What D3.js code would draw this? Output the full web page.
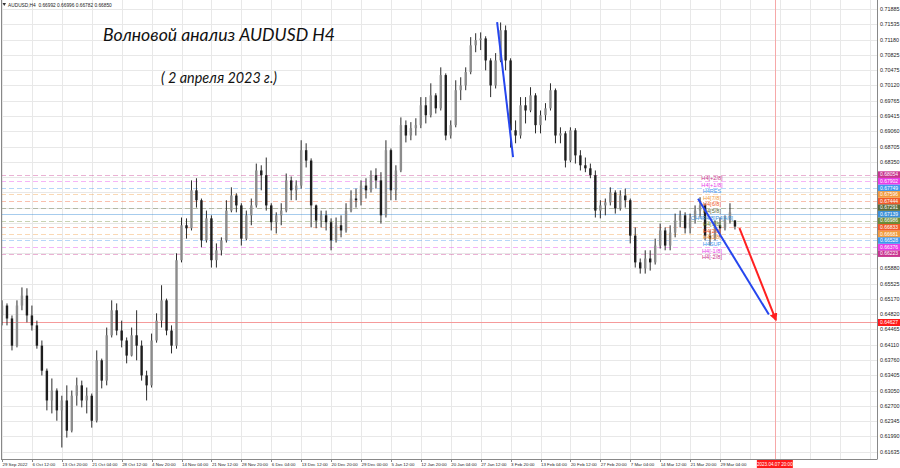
<!DOCTYPE html>
<html><head><meta charset="utf-8">
<script src="https://cdn.jsdelivr.net/npm/d3@7"></script>
<style>html,body{margin:0;padding:0;background:#fff;}svg{display:block;}</style>
</head><body><svg id="c" width="900" height="468"></svg>
<script>
// ---------- DATA ----------
const symbolInfo = "AUDUSD,H4  0.66992 0.66996 0.66782 0.66850";
const titleLine1 = "Волновой анализ AUDUSD H4";
const titleLine2 = "( 2 апреля 2023 г.)";
// candles: [open, high, low, close]
const candles = [
[0.6479,0.6514,0.6456,0.6502],[0.6502,0.6507,0.6456,0.6472],[0.6472,0.6479,0.6398,0.6409],[0.6409,0.6514,0.6405,0.6502],
[0.6502,0.6544,0.6491,0.6525],[0.6525,0.6542,0.6463,0.6479],[0.6479,0.6502,0.6444,0.6456],[0.6456,0.6467,0.6402,0.6409],
[0.6409,0.6421,0.6340,0.6351],[0.6351,0.6356,0.6259,0.6282],[0.6282,0.6333,0.6252,0.6305],[0.6305,0.6310,0.6235,0.6259],
[0.6259,0.6293,0.6173,0.6282],[0.6282,0.6317,0.6196,0.6212],[0.6212,0.6305,0.6208,0.6293],[0.6293,0.6335,0.6270,0.6317],
[0.6317,0.6328,0.6266,0.6282],[0.6282,0.6312,0.6252,0.6293],[0.6293,0.6298,0.6219,0.6235],[0.6235,0.6398,0.6231,0.6375],
[0.6375,0.6379,0.6310,0.6328],[0.6328,0.6451,0.6317,0.6433],[0.6433,0.6514,0.6428,0.6491],[0.6491,0.6507,0.6433,0.6444],
[0.6444,0.6467,0.6405,0.6421],[0.6421,0.6428,0.6368,0.6386],[0.6386,0.6451,0.6384,0.6433],[0.6433,0.6491,0.6375,0.6409],
[0.6409,0.6421,0.6328,0.6340],[0.6340,0.6351,0.6282,0.6317],[0.6317,0.6437,0.6312,0.6421],[0.6421,0.6484,0.6416,0.6467],
[0.6467,0.6549,0.6451,0.6514],[0.6514,0.6518,0.6433,0.6444],[0.6444,0.6456,0.6391,0.6409],[0.6409,0.6623,0.6402,0.6607],
[0.6607,0.6706,0.6602,0.6688],[0.6688,0.6704,0.6657,0.6681],[0.6681,0.6792,0.6676,0.6769],[0.6769,0.6797,0.6729,0.6746],
[0.6746,0.6750,0.6637,0.6653],[0.6653,0.6722,0.6648,0.6704],[0.6704,0.6711,0.6590,0.6607],[0.6607,0.6646,0.6590,0.6630],
[0.6630,0.6660,0.6618,0.6653],[0.6653,0.6746,0.6648,0.6722],[0.6722,0.6776,0.6718,0.6757],[0.6757,0.6762,0.6718,0.6734],
[0.6734,0.6739,0.6641,0.6657],[0.6657,0.6722,0.6653,0.6711],[0.6711,0.6750,0.6688,0.6734],[0.6734,0.6831,0.6729,0.6815],
[0.6815,0.6827,0.6769,0.6804],[0.6804,0.6845,0.6722,0.6734],[0.6734,0.6739,0.6676,0.6695],[0.6695,0.6718,0.6669,0.6711],
[0.6711,0.6739,0.6688,0.6722],[0.6722,0.6808,0.6718,0.6792],[0.6792,0.6801,0.6746,0.6769],[0.6769,0.6792,0.6746,0.6780],
[0.6780,0.6885,0.6773,0.6862],[0.6862,0.6878,0.6822,0.6838],[0.6838,0.6843,0.6683,0.6734],[0.6734,0.6736,0.6681,0.6699],
[0.6699,0.6722,0.6683,0.6711],[0.6711,0.6722,0.6676,0.6695],[0.6695,0.6704,0.6630,0.6653],[0.6653,0.6706,0.6648,0.6688],
[0.6688,0.6711,0.6660,0.6676],[0.6676,0.6739,0.6671,0.6722],[0.6722,0.6769,0.6718,0.6750],[0.6750,0.6773,0.6729,0.6746],
[0.6746,0.6792,0.6734,0.6780],[0.6780,0.6797,0.6750,0.6769],[0.6769,0.6815,0.6764,0.6804],[0.6804,0.6820,0.6773,0.6792],
[0.6792,0.6811,0.6692,0.6711],[0.6711,0.6885,0.6706,0.6862],[0.6862,0.6866,0.6746,0.6769],[0.6769,0.6827,0.6746,0.6815],
[0.6815,0.6938,0.6811,0.6920],[0.6920,0.6931,0.6880,0.6896],[0.6896,0.6927,0.6885,0.6913],[0.6913,0.6936,0.6896,0.6920],
[0.6920,0.6985,0.6913,0.6966],[0.6966,0.6985,0.6924,0.6943],[0.6943,0.7017,0.6938,0.6989],[0.6989,0.6994,0.6947,0.6959],
[0.6959,0.7054,0.6954,0.7036],[0.7036,0.7040,0.6885,0.6896],[0.6896,0.6931,0.6889,0.6920],[0.6920,0.7024,0.6915,0.7001],
[0.7001,0.7031,0.6978,0.7012],[0.7012,0.7054,0.7001,0.7043],[0.7043,0.7124,0.7038,0.7105],[0.7105,0.7133,0.7089,0.7117],
[0.7117,0.7135,0.7094,0.7121],[0.7121,0.7126,0.7047,0.7070],[0.7070,0.7075,0.6985,0.7012],[0.7012,0.7087,0.7005,0.7070],
[0.7070,0.7158,0.7066,0.7140],[0.7140,0.7151,0.7047,0.7070],[0.7070,0.7075,0.6868,0.6908],[0.6908,0.6931,0.6878,0.6896],
[0.6896,0.6985,0.6889,0.6966],[0.6966,0.6985,0.6924,0.6954],[0.6954,0.7008,0.6950,0.6989],[0.6989,0.6994,0.6901,0.6920],
[0.6920,0.6954,0.6901,0.6943],[0.6943,0.6971,0.6931,0.6959],[0.6959,0.7017,0.6954,0.7001],[0.7001,0.7005,0.6878,0.6896],
[0.6896,0.6915,0.6878,0.6901],[0.6901,0.6906,0.6822,0.6838],[0.6838,0.6915,0.6834,0.6908],[0.6908,0.6913,0.6831,0.6850],
[0.6850,0.6862,0.6815,0.6827],[0.6827,0.6845,0.6811,0.6820],[0.6820,0.6831,0.6797,0.6804],[0.6804,0.6815,0.6706,0.6722],
[0.6722,0.6746,0.6704,0.6734],[0.6734,0.6750,0.6711,0.6741],[0.6741,0.6776,0.6734,0.6764],[0.6764,0.6769,0.6715,0.6727],
[0.6727,0.6769,0.6722,0.6757],[0.6757,0.6773,0.6729,0.6746],[0.6746,0.6750,0.6646,0.6664],[0.6664,0.6683,0.6590,0.6602],
[0.6602,0.6611,0.6576,0.6588],[0.6588,0.6630,0.6576,0.6611],[0.6611,0.6630,0.6583,0.6602],[0.6602,0.6657,0.6597,0.6641],
[0.6641,0.6692,0.6634,0.6676],[0.6676,0.6683,0.6630,0.6641],[0.6641,0.6688,0.6630,0.6671],[0.6671,0.6715,0.6660,0.6699],
[0.6699,0.6722,0.6683,0.6711],[0.6711,0.6718,0.6669,0.6681],[0.6681,0.6715,0.6669,0.6704],[0.6704,0.6734,0.6692,0.6722],
[0.6722,0.6753,0.6706,0.6734],[0.6734,0.6739,0.6653,0.6664],[0.6664,0.6676,0.6641,0.6657],[0.6657,0.6699,0.6653,0.6688],
[0.6688,0.6706,0.6660,0.6681],[0.6681,0.6711,0.6676,0.6699],[0.6699,0.6739,0.6692,0.6718],[0.66992,0.66996,0.66782,0.66850]
];
// price grid values; those hidden behind the Murray boxes carry only a grid line
const priceTicks = [0.71885,0.71535,0.71180,0.70825,0.70475,0.70120,0.69765,0.69415,0.69060,0.68705,0.68350,
  0.65880,0.65525,0.65170,0.64820,0.64465,0.64110,0.63760,0.63405,0.63050,0.62700,0.62345,0.61990,0.61635];
const hiddenPriceTicks = [0.67995,0.67640,0.67290,0.66935,0.66580,0.66230];
const dateLabels = ["29 Sep 2022","6 Oct 12:00","13 Oct 20:00","21 Oct 04:00","28 Oct 12:00","4 Nov 20:00",
  "14 Nov 04:00","21 Nov 12:00","28 Nov 20:00","6 Dec 04:00","13 Dec 12:00","20 Dec 20:00","29 Dec 00:00",
  "5 Jan 12:00","12 Jan 20:00","20 Jan 04:00","27 Jan 12:00","3 Feb 20:00","13 Feb 04:00","20 Feb 12:00",
  "27 Feb 20:00","7 Mar 04:00","14 Mar 12:00","21 Mar 20:00","29 Mar 04:00"];
const barsPerDateLabel = 6;
// Murray levels (low to high)
const murrayLevels = [0.66223,0.66376,0.66528,0.66681,0.66833,0.66986,0.67139,0.67291,0.67444,0.67596,0.67749,0.67902,0.68054];
const murrayNames = ["H4[-2/8]","H4[-1/8]","H4SUP","H4[1/8]","H4[2/8]","H4[3/8]","CH4R4/8]P4[4/8]","H4[5/8]","H4[6/8]","H4[7/8]","H4RES","H4[+1/8]","H4[+2/8]"];
const murrayColors = ["#c8348e","#e83ce8","#3f97ee","#f29a3c","#f05a2a","#6e8b36","#3b8fd8","#5a6a38","#f05a2a","#f29a3c","#3f97ee","#e83ce8","#c8348e"];
const redLevel = 0.64627;
const redLevelLabel = "0.64627";
const futureBar = 155;
const futureLabel = "2023.04.07 20:00";
// drawn lines [bar, price] pairs
const blueLine1 = [[99.3,0.71590],[102.5,0.68460]];
const blueLine2 = [[139.6,0.67495],[153.8,0.64812]];
const redArrow = [[147.9,0.66813],[155.2,0.64689]];

// ---------- DRAW ----------
const svg = d3.select("#c");
const plotL = 1, plotR = 877, plotT = 0, plotB = 459;
const x = d3.scaleLinear().domain([0,144]).range([2,720]);
const y = d3.scaleLinear().domain([0.61635,0.71885]).range([451.6,9.3]);
const font = "'Liberation Sans', Arial, sans-serif";

svg.append("rect").attr("width",900).attr("height",468).attr("fill","#fff");
const defs = svg.append("defs");
defs.append("clipPath").attr("id","plot").append("rect")
  .attr("x",plotL).attr("y",plotT).attr("width",plotR-plotL).attr("height",plotB-plotT);
defs.append("marker").attr("id","arr").attr("viewBox","0 0 10 10").attr("refX",8).attr("refY",5)
  .attr("markerWidth",4).attr("markerHeight",4).attr("orient","auto")
  .append("path").attr("d","M0,0L10,5L0,10z").attr("fill","#ff2020");

const g = svg.append("g").attr("clip-path","url(#plot)");
// grid
g.selectAll("line.hg").data(priceTicks.concat(hiddenPriceTicks)).join("line").attr("class","hg")
  .attr("x1",plotL).attr("x2",plotR).attr("y1",d=>Math.round(y(d))+0.5).attr("y2",d=>Math.round(y(d))+0.5)
  .attr("stroke","#e8e8e8").attr("stroke-width",1);
const gridX = d3.range(0, 200, barsPerDateLabel).map(i=>x(i));
g.selectAll("line.vg").data(gridX).join("line").attr("class","vg")
  .attr("x1",d=>Math.round(d)+0.5).attr("x2",d=>Math.round(d)+0.5).attr("y1",plotT).attr("y2",plotB)
  .attr("stroke","#e8e8e8").attr("stroke-width",1);

// Murray lines
g.selectAll("line.mm").data(murrayLevels).join("line").attr("class","mm")
  .attr("x1",plotL).attr("x2",plotR).attr("y1",d=>Math.round(y(d))+0.5).attr("y2",d=>Math.round(y(d))+0.5)
  .attr("stroke",(d,i)=>murrayColors[i]).attr("stroke-opacity",(d,i)=>i===6?0.45:0.38)
  .attr("stroke-dasharray",(d,i)=>i===6?null:"5,3").attr("stroke-width",1);

// red horizontal & vertical
g.append("line").attr("x1",plotL).attr("x2",plotR).attr("y1",Math.round(y(redLevel))+0.5).attr("y2",Math.round(y(redLevel))+0.5)
  .attr("stroke","#f59a9a").attr("stroke-width",1);
g.append("line").attr("x1",Math.round(x(futureBar))+0.5).attr("x2",Math.round(x(futureBar))+0.5).attr("y1",plotT).attr("y2",plotB)
  .attr("stroke","#f6a8a8").attr("stroke-width",1);

// candles
const cg = g.append("g");
cg.selectAll("line.w").data(candles).join("line").attr("class","w")
  .attr("x1",(d,i)=>x(i)).attr("x2",(d,i)=>x(i)).attr("y1",d=>y(d[1])).attr("y2",d=>y(d[2]))
  .attr("stroke","#2a2a2a").attr("stroke-width",1);
cg.selectAll("rect.b").data(candles).join("rect").attr("class","b")
  .attr("x",(d,i)=>x(i)-1.2).attr("width",2.4)
  .attr("y",d=>y(Math.max(d[0],d[3]))).attr("height",d=>Math.max(1,Math.abs(y(d[0])-y(d[3]))))
  .attr("fill",d=>d[3]>=d[0]?"#8c8c8c":"#1e1e1e");

// Murray labels in chart
g.selectAll("text.ml").data(murrayLevels).join("text").attr("class","ml")
  .attr("x",712).attr("y",d=>y(d)+5.5).attr("text-anchor","middle")
  .attr("font-family",font).attr("font-size",5.6).attr("fill",(d,i)=>murrayColors[i])
  .text((d,i)=>murrayNames[i]);

// trend lines
const lineGen = d3.line().x(d=>x(d[0])).y(d=>y(d[1]));
g.append("path").attr("d",lineGen(blueLine1)).attr("stroke","#2646ee").attr("stroke-width",2).attr("fill","none");
g.append("path").attr("d",lineGen(blueLine2)).attr("stroke","#2646ee").attr("stroke-width",2).attr("fill","none");
g.append("path").attr("d",lineGen(redArrow)).attr("stroke","#ff2020").attr("stroke-width",2).attr("fill","none")
  .attr("marker-end","url(#arr)");

// frame
svg.append("line").attr("x1",1.5).attr("x2",1.5).attr("y1",0).attr("y2",plotB).attr("stroke","#888");
svg.append("line").attr("x1",plotR+0.5).attr("x2",plotR+0.5).attr("y1",0).attr("y2",plotB+0.5).attr("stroke","#888");
svg.append("line").attr("x1",1).attr("x2",plotR).attr("y1",plotB+0.5).attr("y2",plotB+0.5).attr("stroke","#888");

// price axis labels
svg.selectAll("text.pl").data(priceTicks).join("text").attr("class","pl")
  .attr("x",880).attr("y",d=>y(d)+2).attr("font-family",font).attr("font-size",5.4).attr("fill","#222")
  .text(d=>d.toFixed(5));
// Murray boxes
svg.selectAll("rect.mb").data(murrayLevels).join("rect").attr("class","mb")
  .attr("x",878).attr("width",22).attr("y",d=>y(d)-3.3).attr("height",6.6).attr("fill",(d,i)=>murrayColors[i]);
svg.selectAll("text.mbt").data(murrayLevels).join("text").attr("class","mbt")
  .attr("x",880).attr("y",d=>y(d)+1.8).attr("font-family",font).attr("font-size",5).attr("fill","#fff")
  .text(d=>d.toFixed(5));
// red price box
svg.append("rect").attr("x",878).attr("width",22).attr("y",y(redLevel)-3.5).attr("height",7).attr("fill","#ff1a1a");
svg.append("text").attr("x",880).attr("y",y(redLevel)+1.9).attr("font-family",font).attr("font-size",5).attr("fill","#fff").text(redLevelLabel);

// date labels
svg.selectAll("text.dl").data(dateLabels).join("text").attr("class","dl")
  .attr("x",(d,i)=>x(i*barsPerDateLabel)+0.5).attr("y",465.5).attr("font-family",font).attr("font-size",4.4).attr("fill","#222")
  .text(d=>d);
svg.selectAll("line.dt").data(dateLabels).join("line").attr("class","dt")
  .attr("x1",(d,i)=>Math.round(x(i*barsPerDateLabel))+0.5).attr("x2",(d,i)=>Math.round(x(i*barsPerDateLabel))+0.5)
  .attr("y1",plotB).attr("y2",plotB+3).attr("stroke","#888");
const fx = x(futureBar);
svg.append("rect").attr("x",fx-18).attr("width",36).attr("y",460).attr("height",8).attr("fill","#ff1a1a");
svg.append("text").attr("x",fx).attr("y",466).attr("text-anchor","middle").attr("font-family",font).attr("font-size",4.6)
  .attr("fill","#fff").text(futureLabel);

// header
svg.append("path").attr("d","M2.5,3 L6,3 L4.25,6 Z").attr("fill","#333");
svg.append("text").attr("x",8).attr("y",6.5).attr("font-family",font).attr("font-size",4.8).attr("fill","#222")
  .attr("xml:space","preserve").text(symbolInfo);

// titles
svg.append("text").attr("x",103).attr("y",41).attr("font-family","Lato, 'Open Sans', sans-serif").attr("font-style","italic")
  .attr("font-size",18).attr("fill","#111").attr("textLength",232).attr("lengthAdjust","spacingAndGlyphs").text(titleLine1);
svg.append("text").attr("x",161).attr("y",83).attr("font-family","Lato, 'Open Sans', sans-serif").attr("font-style","italic")
  .attr("font-size",15).attr("fill","#111").attr("textLength",116).attr("lengthAdjust","spacingAndGlyphs").text(titleLine2);
</script></body></html>
